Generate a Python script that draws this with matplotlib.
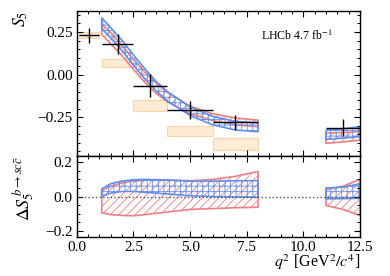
import numpy as np
import matplotlib
matplotlib.use("Agg")
import matplotlib.pyplot as plt
from matplotlib.ticker import MultipleLocator

plt.rcParams['font.family'] = 'serif'
plt.rcParams['font.serif'] = ['Liberation Serif', 'DejaVu Serif']
plt.rcParams['mathtext.fontset'] = 'stix'
plt.rcParams['hatch.linewidth'] = 0.6

# measured S5 per q2 bin
bin_lo = np.array([0.1, 1.1, 2.5, 4.0, 6.0, 11.0])
bin_hi = np.array([0.98, 2.5, 4.0, 6.0, 8.0, 12.5])
s5_val = np.array([0.23, 0.178, -0.064, -0.205, -0.281, -0.312])
s5_err = np.array([0.043, 0.06, 0.068, 0.053, 0.045, 0.05])

# SM prediction boxes (visible bins)
sm_lo = np.array([0.1, 1.1, 2.5, 4.0, 6.0])
sm_hi = np.array([0.98, 2.5, 4.0, 6.0, 8.0])
sm_low = np.array([0.217, 0.047, -0.215, -0.36, -0.44])
sm_up = np.array([0.252, 0.091, -0.151, -0.302, -0.374])

# fitted bands, top panel
q_a = np.array([1.1, 1.5, 2.0, 2.5, 3.0, 3.5, 4.0, 5.0, 6.0, 7.0, 8.0])
blue_hi_a = np.array([0.333, 0.275, 0.20, 0.115, 0.035, -0.04, -0.10, -0.19, -0.245, -0.275, -0.283])
blue_lo_a = np.array([0.27, 0.215, 0.14, 0.055, -0.025, -0.095, -0.155, -0.24, -0.295, -0.325, -0.335])
red_hi_a = np.array([0.30, 0.245, 0.17, 0.09, 0.015, -0.05, -0.105, -0.185, -0.23, -0.255, -0.267])
red_lo_a = np.array([0.235, 0.18, 0.11, 0.03, -0.045, -0.11, -0.16, -0.23, -0.27, -0.295, -0.306])

q_b = np.array([11.0, 11.75, 12.5])
blue_hi_b = np.array([-0.326, -0.318, -0.306])
blue_lo_b = np.array([-0.38, -0.373, -0.364])
red_hi_b = np.array([-0.343, -0.34, -0.335])
red_lo_b = np.array([-0.403, -0.395, -0.384])

# charm-loop shift, bottom panel
q_c = np.array([1.1, 1.5, 2.0, 2.5, 3.0, 4.0, 5.0, 6.0, 7.0, 8.0])
dblue_hi_c = np.array([0.045, 0.075, 0.09, 0.098, 0.10, 0.097, 0.09, 0.09, 0.092, 0.093])
dblue_lo_c = np.array([0.002, 0.02, 0.03, 0.03, 0.025, 0.015, 0.005, 0.0, -0.002, -0.004])
dred_hi_c = np.array([0.035, 0.06, 0.08, 0.09, 0.095, 0.095, 0.092, 0.10, 0.118, 0.146])
dred_lo_c = np.array([-0.095, -0.105, -0.11, -0.112, -0.105, -0.09, -0.075, -0.07, -0.065, -0.062])

dblue_hi_d = np.array([0.05, 0.055, 0.074])
dblue_lo_d = np.array([-0.013, -0.012, -0.01])
dred_hi_d = np.array([0.04, 0.06, 0.10])
dred_lo_d = np.array([-0.052, -0.075, -0.11])

blue = '#5f8fec'
red = '#f07f80'

fig = plt.figure(figsize=(3.9, 2.76), dpi=100)
gs = fig.add_gridspec(2, 1, height_ratios=[145, 81], hspace=0,
                      left=0.197, right=0.923, top=0.960, bottom=0.141)
ax1 = fig.add_subplot(gs[0])
ax2 = fig.add_subplot(gs[1], sharex=ax1)

def band(ax, q, lo, hi, color, hatch):
    ax.fill_between(q, lo, hi, facecolor='none', edgecolor=color,
                    hatch=hatch, linewidth=1.2)

ax1.bar(sm_lo, sm_up - sm_low, width=sm_hi - sm_lo, bottom=sm_low, align='edge',
        facecolor='#ffebd3', edgecolor='#f9d6a8', linewidth=0.8)
band(ax1, q_a, red_lo_a, red_hi_a, red, '////')
band(ax1, q_a, blue_lo_a, blue_hi_a, blue, '+++')
band(ax1, q_b, red_lo_b, red_hi_b, red, '////')
band(ax1, q_b, blue_lo_b, blue_hi_b, blue, '+++')

xc = 0.5 * (bin_lo + bin_hi)
ax1.errorbar(xc, s5_val, xerr=[xc - bin_lo, bin_hi - xc], yerr=s5_err,
             fmt='none', ecolor='k', elinewidth=1.0, capsize=0)
ax1.text(0.777, 0.83, r'LHCb 4.7 fb$^{-1}$', transform=ax1.transAxes,
         ha='center', va='center', fontsize=8.6)

ax2.axhline(0, color='#555555', linestyle=':', linewidth=1.0)
band(ax2, q_c, dred_lo_c, dred_hi_c, red, '////')
band(ax2, q_c, dblue_lo_c, dblue_hi_c, blue, '+++')
band(ax2, q_b, dred_lo_d, dred_hi_d, red, '////')
band(ax2, q_b, dblue_lo_d, dblue_hi_d, blue, '+++')

ax1.set_xlim(0, 12.5)
ax1.set_ylim(-0.478, 0.373)
ax2.set_ylim(-0.236, 0.236)

ax1.yaxis.set_major_locator(MultipleLocator(0.25))
ax1.yaxis.set_minor_locator(MultipleLocator(0.05))
ax2.yaxis.set_major_locator(MultipleLocator(0.2))
ax2.yaxis.set_minor_locator(MultipleLocator(0.05))
ax2.xaxis.set_major_locator(MultipleLocator(2.5))
ax2.xaxis.set_minor_locator(MultipleLocator(0.5))

for ax in (ax1, ax2):
    ax.tick_params(which='both', direction='in', top=True, right=True, labelsize=11, pad=3)
    ax.tick_params(which='major', length=4.5, width=0.8)
    ax.tick_params(which='minor', length=2.3, width=0.7)
    for s in ax.spines.values():
        s.set_linewidth(1.0)
ax1.tick_params(labelbottom=False)

ax1.set_ylabel(r'$S_5$', loc='top', fontsize=12.5)
ax1.yaxis.set_label_coords(-0.166, 1.0)
ax2.set_ylabel(r'$\Delta S_5^{\,b\to sc\bar{c}}$', loc='top', fontsize=13)
ax2.yaxis.set_label_coords(-0.141, 1.0)
ax2.set_xlabel(r'$q^2$ [GeV$^2/c^4$]', loc='right', fontsize=11.5, labelpad=-1)

fig.savefig('out.png', dpi=100)
